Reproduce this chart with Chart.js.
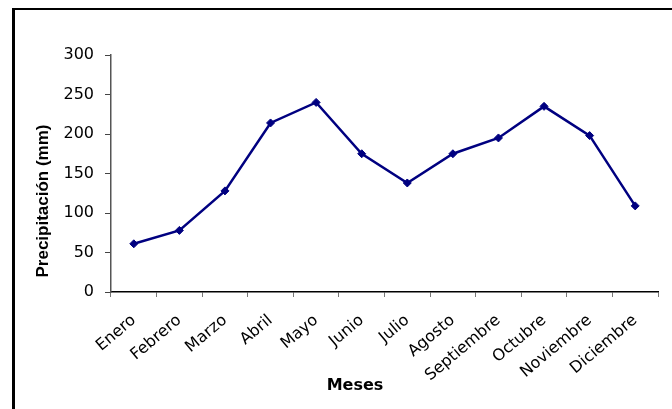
<!DOCTYPE html>
<html lang="es">
<head>
<meta charset="utf-8">
<title>Precipitación mensual</title>
<script src="https://cdn.jsdelivr.net/npm/chart.js@4/dist/chart.umd.min.js"></script>
<style>
  html, body { margin: 0; padding: 0; background: #fff; }
  #wrap { position: relative; width: 672px; height: 409px; overflow: hidden; }
  #frame {
    position: absolute; left: 12px; top: 8px; width: 700px; height: 420px;
    border-top: 2px solid #000; border-left: 3px solid #000; box-sizing: border-box;
    pointer-events: none;
  }
  canvas { position: absolute; left: 0; top: 0; }
</style>
</head>
<body>
<div id="wrap">
  <canvas id="chart" width="672" height="409"></canvas>
  <div id="frame"></div>
</div>
<script>
// Meses del año
const months = ['Enero', 'Febrero', 'Marzo', 'Abril', 'Mayo', 'Junio', 'Julio',
  'Agosto', 'Septiembre', 'Octubre', 'Noviembre', 'Diciembre'];
// Precipitación mensual (mm)
const rainfall = [61, 78, 128, 214, 240, 175, 138, 175, 195, 235, 198, 109];
// Escala del eje vertical
const yMin = 0;
const yMax = 300;
const yStep = 50;

const yTitle = 'Precipitación (mm)';
const xTitle = 'Meses';

// Títulos de los ejes, dibujados respecto al área del gráfico
const axisTitles = {
  id: 'axisTitles',
  afterDraw(chart) {
    const { ctx, chartArea } = chart;
    ctx.save();
    ctx.fillStyle = '#000';
    ctx.textAlign = 'center';
    ctx.textBaseline = 'middle';
    ctx.font = 'bold 17px "Liberation Sans", Arial, sans-serif';
    ctx.translate(chartArea.left - 68, chartArea.bottom - 91);
    ctx.rotate(-Math.PI / 2);
    ctx.fillText(yTitle, 0, 0);
    ctx.restore();

    ctx.save();
    ctx.fillStyle = '#000';
    ctx.textAlign = 'center';
    ctx.textBaseline = 'middle';
    ctx.font = 'bold 16px "DejaVu Sans", sans-serif';
    ctx.fillText(xTitle, chartArea.left + 244, chartArea.bottom + 94);
    ctx.restore();
  }
};

new Chart(document.getElementById('chart'), {
  type: 'line',
  data: {
    labels: months,
    datasets: [{
      data: rainfall,
      borderColor: '#000080',
      backgroundColor: '#000080',
      borderWidth: 2.5,
      pointStyle: 'rectRot',
      pointRadius: 4,
      pointBorderWidth: 1,
      tension: 0,
      fill: false
    }]
  },
  options: {
    responsive: false,
    animation: false,
    layout: { padding: { top: 55, right: 14, bottom: 0, left: 0 } },
    plugins: {
      legend: { display: false },
      tooltip: { enabled: false }
    },
    scales: {
      x: {
        type: 'category',
        offset: true,
        afterFit(scale) { scale.height = 117; },
        grid: {
          offset: true,
          drawOnChartArea: false,
          drawTicks: true,
          tickLength: 5,
          color: '#777'
        },
        border: { display: true, color: '#000', width: 1.5 },
        ticks: {
          autoSkip: false,
          minRotation: 40,
          maxRotation: 40,
          padding: 14,
          color: '#000',
          font: { family: '"DejaVu Sans", sans-serif', size: 16 }
        }
      },
      y: {
        min: yMin,
        max: yMax,
        afterFit(scale) { scale.width = 111; },
        grid: {
          drawOnChartArea: false,
          drawTicks: true,
          tickLength: 6,
          color: '#444'
        },
        border: { display: true, color: '#555', width: 1.5 },
        ticks: {
          stepSize: yStep,
          padding: 11,
          color: '#000',
          font: { family: '"DejaVu Sans", sans-serif', size: 16 }
        }
      }
    }
  },
  plugins: [axisTitles]
});
</script>
</body>
</html>
